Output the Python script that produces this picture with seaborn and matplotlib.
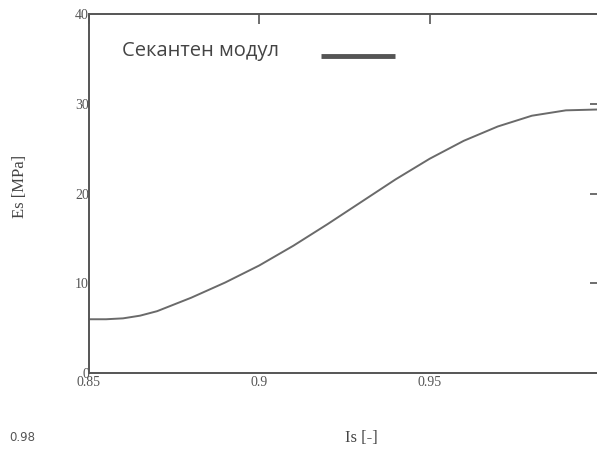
import numpy
import pandas
import seaborn as sns
import matplotlib.pyplot as plt


# Curve values.
is_values = [0.85, 0.855, 0.86, 0.865, 0.87, 0.88, 0.89, 0.90, 0.91, 0.92,
             0.93, 0.94, 0.95, 0.96, 0.97, 0.98, 0.99, 1.00]
es_values = [6.0, 6.0, 6.1, 6.4, 6.9, 8.4, 10.1, 12.0, 14.2, 16.6,
             19.1, 21.6, 23.9, 25.9, 27.5, 28.7, 29.3, 29.4]

x_ticks = [0.85, 0.9, 0.95]
x_tick_labels = ['0.85', '0.9', '0.95']
y_ticks = [0, 10, 20, 30, 40]

legend_label = 'Секантен модул'
x_label = 'Is [-]'
y_label = 'Es [MPa]'
stray_text = '0.98'


def plot_secant_modulus():
    sns.set_style('white')
    plt.rcParams.update({
        'axes.edgecolor': '#555555',
        'xtick.color': '#555555',
        'ytick.color': '#555555',
        'font.family': ['Liberation Serif', 'DejaVu Serif'],
    })

    df = pandas.DataFrame({'Is': is_values, 'Es': es_values})

    fig = plt.figure(figsize = (5.97, 4.5), dpi = 100)
    ax = fig.add_axes([0.149, 0.171, 0.856, 0.797])

    # Draw the secant modulus curve.
    sns.lineplot(data = df, x = 'Is', y = 'Es', ax = ax, color = '#6a6a6a',
                 linewidth = 1.4, label = legend_label)

    ax.set_xlim(0.85, 1.0)
    ax.set_ylim(0, 40)
    ax.set_xticks(x_ticks)
    ax.set_xticklabels(x_tick_labels)
    ax.set_yticks(y_ticks)

    for spine in ax.spines.values():
        spine.set_linewidth(1.4)
        spine.set_color('#555555')

    ax.tick_params(direction = 'in', length = 7, width = 1.2,
                   top = True, right = True, labelsize = 10,
                   labelcolor = '#555555')
    ax.tick_params(axis = 'x', pad = 2)
    ax.tick_params(axis = 'y', pad = 0)

    ax.set_xlabel(x_label, fontsize = 12, color = '#444444')
    ax.set_ylabel(y_label, fontsize = 12, color = '#444444')
    ax.xaxis.set_label_coords(0.534, -0.16)
    ax.yaxis.set_label_coords(-0.12, 0.52)

    # Legend with the text before the line, no frame.
    leg = ax.legend(loc = 'upper left', bbox_to_anchor = (0.03, 0.975),
                    frameon = False, markerfirst = False,
                    handlelength = 3.7, handletextpad = 2.05,
                    prop = {'family': 'Open Sans', 'size': 14.5})
    for line in leg.get_lines():
        line.set_linewidth(3.5)
        line.set_color('#555555')
        line.set_solid_capstyle('butt')
        # The line sits a little lower than the text in the scan.
        line.set_ydata(numpy.asarray(line.get_ydata()) - 4.5)
    for text in leg.get_texts():
        text.set_color('#444444')

    # Stray label from the scanned page.
    fig.text(0.016, 0.028, stray_text, fontsize = 8.5, color = '#555555',
             family = 'DejaVu Sans', va = 'center')

    plt.savefig('out.png', dpi = 100)

    return


plot_secant_modulus()
